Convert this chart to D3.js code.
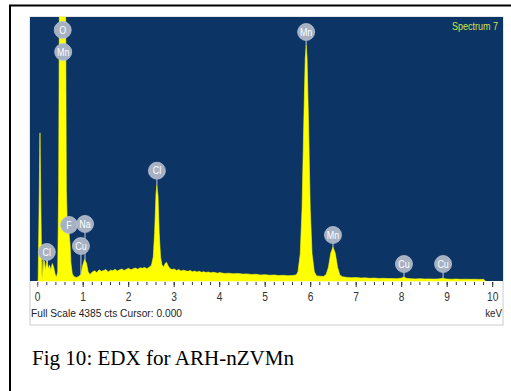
<!DOCTYPE html>
<html>
<head>
<meta charset="utf-8">
<script src="https://cdn.jsdelivr.net/npm/d3@7"></script>
<style>
  body { margin: 0; background: #fff; }
  svg { display: block; }
</style>
</head>
<body>
<script>
// spectrum: energy (keV) and counts
const energyKeV = [
  0.00, 0.01, 0.03, 0.05, 0.07, 0.09, 0.10, 0.12, 0.13, 0.15, 0.17, 0.19, 0.21, 0.23, 0.26, 0.29, 0.32, 0.35, 0.38, 0.41,
  0.44, 0.46, 0.475, 0.615, 0.63, 0.65, 0.68, 0.71, 0.73, 0.76, 0.80, 0.85, 0.90, 0.95, 0.99, 1.03, 1.07, 1.11, 1.15, 1.20,
  1.25, 1.30, 1.35, 1.40, 1.45, 1.50, 1.55, 1.60, 1.65, 1.70, 1.75, 1.80, 1.85, 1.90, 1.95, 2.00, 2.05, 2.10, 2.15, 2.20,
  2.25, 2.30, 2.35, 2.40, 2.45, 2.50, 2.54, 2.57, 2.60, 2.62, 2.645, 2.67, 2.70, 2.73, 2.77, 2.80, 2.83, 2.86, 2.90, 2.95,
  3.00, 3.05, 3.10, 3.15, 3.20, 3.25, 3.30, 3.35, 3.40, 3.45, 3.50, 3.55, 3.60, 3.65, 3.70, 3.75, 3.80, 3.85, 3.90, 3.95,
  4.00, 4.10, 4.20, 4.30, 4.40, 4.50, 4.60, 4.70, 4.80, 4.90, 5.00, 5.10, 5.20, 5.30, 5.40, 5.50, 5.60, 5.68,
  5.72, 5.77, 5.81, 5.85, 5.88, 5.90, 5.92, 5.95, 5.99, 6.03, 6.08, 6.13, 6.20, 6.28,
  6.34, 6.39, 6.44, 6.49, 6.54, 6.59, 6.64, 6.70, 6.80, 6.90, 7.00, 7.10, 7.20, 7.30, 7.40, 7.50, 7.60, 7.70, 7.80, 7.90,
  8.00, 8.05, 8.10, 8.20, 8.30, 8.40, 8.50, 8.60, 8.70, 8.80, 8.90, 8.95, 9.00, 9.10, 9.20, 9.30, 9.40, 9.50, 9.60, 9.70,
  9.80, 9.84
];
const counts = [
  0, 0, 1200, 2460, 1200, 100, 40, 380, 150, 330, 180, 280, 350, 200, 260, 180, 290, 230, 120, 60,
  150, 1500, 4385, 4385, 1500, 920, 850, 620, 300, 120, 70, 60, 75, 110, 260, 360, 300, 150, 110, 150,
  170, 140, 185, 160, 175, 190, 150, 180, 170, 195, 165, 185, 200, 175, 195, 210, 185, 205, 215, 195,
  220, 210, 225, 205, 230, 260, 400, 800, 1450, 1595, 1400, 800, 400, 270, 230, 290, 310, 260, 210, 190,
  200, 175, 190, 165, 180, 170, 160, 175, 155, 165, 150, 160, 145, 155, 140, 150, 135, 145, 140, 130,
  140, 125, 130, 120, 125, 115, 118, 108, 112, 100, 105, 95, 100, 90, 95, 88, 92, 100,
  150, 450, 1200, 2700, 3700, 3920, 3700, 2700, 1200, 450, 150, 85, 80, 75,
  110, 230, 460, 565, 460, 230, 100, 70, 60, 55, 58, 50, 52, 45, 48, 42, 45, 40, 42, 38,
  50, 65, 45, 38, 35, 38, 33, 35, 32, 34, 45, 38, 32, 30, 32, 28, 30, 27, 29, 26,
  27, 0
];

// element markers: name, energy (keV), height of the marker (counts)
const markerNames  = ["O", "Mn", "Mn", "Cl", "Mn", "Cu", "Cu", "Cl", "F", "Na", "Cu"];
const markerKeV    = [0.55, 0.56, 5.90, 2.62, 6.49, 8.05, 8.91, 0.20, 0.69, 1.04, 0.95];
const markerCounts = [4169, 3804, 4136, 1832, 764, 282, 282, 482, 930, 947, 581];

const xTicks = d3.range(0, 11);
const fullScale = 4385;
const spectrumName = "Spectrum 7";
const footerText = "Full Scale 4385 cts Cursor: 0.000";
const caption = "Fig 10: EDX for ARH-nZVMn";

const W = 511, H = 391;
const panel = { left: 30, right: 503, top: 17, plotBottom: 281, bottom: 325 };
const narrow = "'Liberation Sans Narrow', 'Arial Narrow', 'Liberation Sans', sans-serif";

const svg = d3.select("body").append("svg")
  .attr("width", W)
  .attr("height", H);

// outer page frame (top and left rules)
svg.append("line")
  .attr("x1", 9).attr("y1", 5.5).attr("x2", W).attr("y2", 5.5)
  .attr("stroke", "#000").attr("stroke-width", 2);
svg.append("line")
  .attr("x1", 10).attr("y1", 5).attr("x2", 10).attr("y2", H)
  .attr("stroke", "#000").attr("stroke-width", 2);

// white panel with grey frame
svg.append("rect")
  .attr("x", panel.left).attr("y", panel.top)
  .attr("width", panel.right - panel.left)
  .attr("height", panel.bottom - panel.top)
  .attr("fill", "#fff")
  .attr("stroke", "#c9ccd2")
  .attr("stroke-width", 1);

// dark blue plot area
svg.append("rect")
  .attr("x", panel.left).attr("y", panel.top)
  .attr("width", panel.right - panel.left)
  .attr("height", panel.plotBottom - panel.top)
  .attr("fill", "#0c3465");

const x = d3.scaleLinear().domain([0, 10]).range([37.7, 492.7]);
const y = d3.scaleLinear().domain([0, fullScale]).range([panel.plotBottom, panel.top]);

const spectrum = energyKeV.map((e, i) => ({ e: e, c: counts[i] }));

const area = d3.area()
  .x(d => x(d.e))
  .y0(y(0))
  .y1(d => y(d.c));

svg.append("path")
  .datum(spectrum)
  .attr("d", area)
  .attr("fill", "#ffff00")
  .attr("stroke", "#ffff00")
  .attr("stroke-width", 0.6);

// x axis: major ticks every keV, minor every 0.2 keV
const axisG = svg.append("g")
  .attr("transform", `translate(0,${panel.plotBottom + 1})`);

axisG.selectAll(".minor")
  .data(d3.range(0, 10.01, 0.2))
  .enter().append("line")
  .attr("x1", d => x(d)).attr("x2", d => x(d))
  .attr("y1", 0).attr("y2", 3)
  .attr("stroke", "#333")
  .attr("stroke-width", 1);

axisG.selectAll(".major")
  .data(xTicks)
  .enter().append("line")
  .attr("x1", d => x(d)).attr("x2", d => x(d))
  .attr("y1", 0).attr("y2", 5)
  .attr("stroke", d => d === 0 ? "#8a5fb0" : "#333")
  .attr("stroke-width", 1);

axisG.selectAll(".tlabel")
  .data(xTicks)
  .enter().append("text")
  .attr("x", d => x(d))
  .attr("y", 19.5)
  .attr("text-anchor", "middle")
  .attr("font-family", narrow)
  .attr("font-size", 12)
  .attr("fill", "#333")
  .attr("transform", d => `translate(${x(d)},0) scale(0.85,1) translate(${-x(d)},0)`)
  .text(d => d);

svg.append("text")
  .attr("x", panel.left + 1)
  .attr("y", 317)
  .attr("font-family", narrow)
  .attr("font-size", 11.5)
  .attr("fill", "#222")
  .attr("textLength", 151)
  .attr("lengthAdjust", "spacingAndGlyphs")
  .text(footerText);

svg.append("text")
  .attr("x", panel.right - 1)
  .attr("y", 317)
  .attr("text-anchor", "end")
  .attr("font-family", narrow)
  .attr("font-size", 11.5)
  .attr("fill", "#222")
  .attr("transform", `translate(${panel.right - 1},0) scale(0.85,1) translate(${-(panel.right - 1)},0)`)
  .text("keV");

// "Spectrum 7" tag
svg.append("text")
  .attr("x", 452)
  .attr("y", 30)
  .attr("font-family", narrow)
  .attr("font-size", 11.5)
  .attr("fill", "#cde64a")
  .attr("textLength", 46)
  .attr("lengthAdjust", "spacingAndGlyphs")
  .text(spectrumName);

// element markers with stems down to the spectrum
const peakAt = e => {
  const i = d3.bisector(d => d.e).left(spectrum, e);
  const a = spectrum[Math.max(0, i - 1)], b = spectrum[Math.min(spectrum.length - 1, i)];
  if (b.e === a.e) return a.c;
  return a.c + (b.c - a.c) * (e - a.e) / (b.e - a.e);
};

const r = 8.5;
const markers = markerNames.map((n, i) => ({ name: n, e: markerKeV[i], c: markerCounts[i] }));

const mg = svg.selectAll(".marker")
  .data(markers)
  .enter().append("g")
  .attr("class", "marker");

mg.append("line")
  .attr("x1", d => x(d.e)).attr("x2", d => x(d.e))
  .attr("y1", d => y(d.c) + r)
  .attr("y2", d => Math.max(y(d.c) + r, y(Math.min(peakAt(d.e), fullScale))))
  .attr("stroke", "#c4ccd8")
  .attr("stroke-width", 1);

mg.append("circle")
  .attr("cx", d => x(d.e))
  .attr("cy", d => y(d.c))
  .attr("r", r)
  .attr("fill", "#a6b1c4")
  .attr("stroke", "#b8c1d0")
  .attr("stroke-width", 0.8);

mg.append("text")
  .attr("x", d => x(d.e))
  .attr("y", d => y(d.c) + 3.8)
  .attr("text-anchor", "middle")
  .attr("font-family", narrow)
  .attr("font-size", 10.5)
  .attr("fill", "#fff")
  .attr("transform", d => `translate(${x(d.e)},0) scale(0.85,1) translate(${-x(d.e)},0)`)
  .text(d => d.name);

// figure caption
svg.append("text")
  .attr("x", 32)
  .attr("y", 365)
  .attr("font-family", "'Liberation Serif', 'Times New Roman', serif")
  .attr("font-size", 21)
  .attr("fill", "#000")
  .attr("textLength", 262)
  .attr("lengthAdjust", "spacingAndGlyphs")
  .text(caption);
</script>
</body>
</html>
